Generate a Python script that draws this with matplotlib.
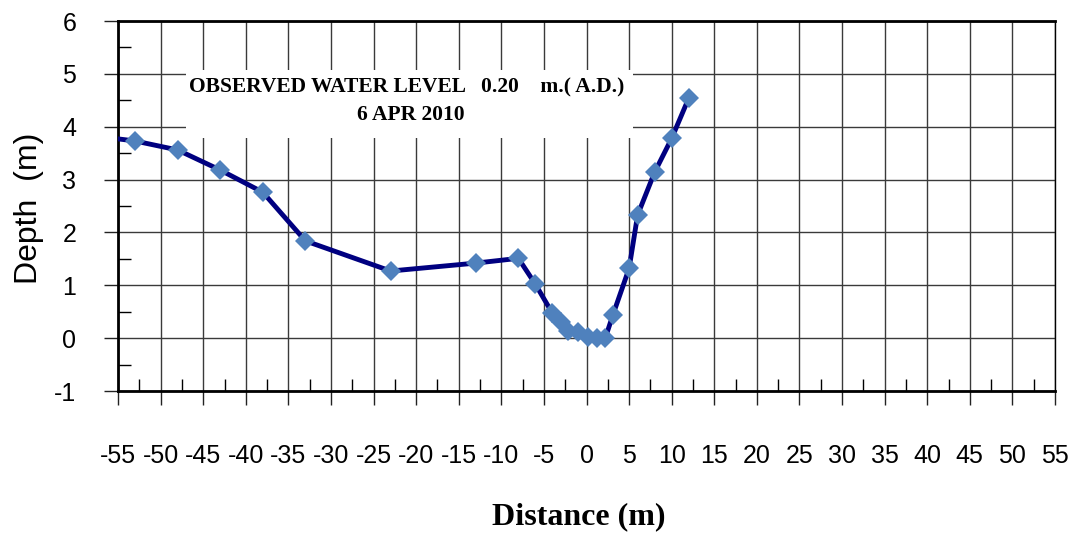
import matplotlib
matplotlib.use("Agg")
import matplotlib.pyplot as plt
from matplotlib.patches import Rectangle
from matplotlib.ticker import MultipleLocator

plt.rcParams["axes.unicode_minus"] = False

# cross-section survey, 6 Apr 2010
distance = [-58, -53, -48, -43, -38, -33, -23, -13, -8, -6, -4, -3, -2.2, -1,
            0.2, 1.2, 2.2, 3.1, 5, 6, 8, 10, 12]
depth = [3.83, 3.73, 3.56, 3.18, 2.76, 1.84, 1.27, 1.42, 1.51, 1.02, 0.47, 0.30,
         0.13, 0.12, 0.02, 0.01, 0.0, 0.44, 1.32, 2.33, 3.14, 3.78, 4.54]

x_ticks = list(range(-55, 60, 5))
y_ticks = list(range(-1, 7))
title_1 = "OBSERVED WATER LEVEL   0.20    m.( A.D.)"
title_2 = "6 APR 2010"

fig = plt.figure(figsize=(10.74, 5.33), dpi=100)
ax = fig.add_axes([0.1099, 0.2664, 0.8724, 0.6942])

ax.plot(distance, depth, color="#000080", lw=3.5, marker="D", ms=10.5,
        mfc="#4F81BD", mec="#4F81BD", mew=0, zorder=3, clip_on=True)

ax.set_xlim(-55, 55)
ax.set_ylim(-1, 6)
ax.set_xticks(x_ticks)
ax.set_yticks(y_ticks)
ax.xaxis.set_minor_locator(MultipleLocator(2.5))
ax.yaxis.set_minor_locator(MultipleLocator(0.5))
ax.grid(True, which="major", color="#3a3a3a", lw=1)
ax.set_axisbelow(True)

ax.tick_params(axis="both", which="major", direction="out", length=10,
               width=1, labelsize=18, color="#222222")
ax.tick_params(axis="x", which="major", pad=28)
ax.tick_params(axis="y", which="major", pad=20)
ax.tick_params(axis="both", which="minor", direction="in", length=9, width=1)
for lab in ax.get_xticklabels() + ax.get_yticklabels():
    lab.set_fontfamily("Liberation Sans")

for s in ["left", "bottom", "top"]:
    ax.spines[s].set_linewidth(2)
ax.spines["right"].set_linewidth(1)

fig.text(0.539, 0.03, "Distance (m)", ha="center", va="center", fontsize=23,
         fontweight="bold", family="Liberation Serif")
fig.text(0.027, 0.61, "Depth  (m)", ha="center", va="center", rotation=90,
         fontsize=23, family="Liberation Sans")

# white label box
ax.add_patch(Rectangle((0.0726, 0.684), 0.477, 0.184, transform=ax.transAxes,
                       facecolor="white", edgecolor="none", zorder=1))
ax.text(0.3084, 0.8216, title_1, transform=ax.transAxes, ha="center", va="center",
        fontsize=15.5, fontweight="bold", family="Liberation Serif", zorder=2)
ax.text(0.3127, 0.746, title_2, transform=ax.transAxes, ha="center", va="center",
        fontsize=15.5, fontweight="bold", family="Liberation Serif", zorder=2)

fig.savefig("out.png", dpi=100)
